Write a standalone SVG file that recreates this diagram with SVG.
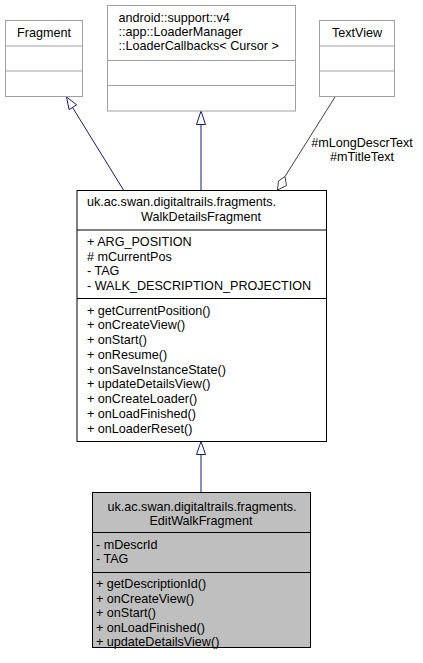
<svg xmlns="http://www.w3.org/2000/svg" width="423" height="663" viewBox="0 0 423 663">
<style>
text{font-family:"Liberation Sans",Arial,Helvetica,sans-serif;font-size:12.6px;fill:#000}
.c{text-anchor:middle}
.ext{fill:#fff;stroke:#a0a0a0;stroke-width:1}
.main{fill:#fff;stroke:#000;stroke-width:1}
.cur{fill:#bfbfbf;stroke:#000;stroke-width:1}
.dl{stroke:#000;stroke-width:1}
.dg{stroke:#a0a0a0;stroke-width:1}
.inh{stroke:#191970;stroke-width:1;fill:none}
.inhh{stroke:#191970;stroke-width:1;fill:#fff}
.agg{stroke:#404040;stroke-width:1;fill:none}
.aggh{stroke:#404040;stroke-width:1;fill:#fff}
</style>
<rect width="423" height="663" fill="#fff"/>
<g id="connectors">
<line class="inh" x1="123.5" y1="190" x2="71" y2="105"/>
<polygon class="inhh" points="66.5,97 76.7,104.8 69.1,109.6"/>
<line class="inh" x1="201" y1="190" x2="201" y2="124.5"/>
<polygon class="inhh" points="201,111 205.5,124.5 196.5,124.5"/>
<line class="agg" x1="335" y1="97" x2="285" y2="176.5"/>
<polygon class="aggh" points="285,176.5 286.5,185.5 277.5,190 278.5,181"/>
<text class="c" x="362" y="146.5">#mLongDescrText</text>
<text class="c" x="362" y="160.5">#mTitleText</text>
<line class="inh" x1="201" y1="492" x2="201" y2="454.5"/>
<polygon class="inhh" points="201,441.5 205.5,454.5 196.5,454.5"/>
</g>
<g id="Fragment">
<rect class="ext" x="5.5" y="20.5" width="77" height="76"/>
<line class="dg" x1="5.5" y1="46" x2="82.5" y2="46"/>
<line class="dg" x1="5.5" y1="71" x2="82.5" y2="71"/>
<text class="c" x="44" y="37">Fragment</text>
</g>
<g id="LoaderCallbacks">
<rect class="ext" x="107.5" y="5.5" width="188" height="105.5"/>
<line class="dg" x1="107.5" y1="60.5" x2="295.5" y2="60.5"/>
<line class="dg" x1="107.5" y1="85.5" x2="295.5" y2="85.5"/>
<text x="118.5" y="22">android::support::v4</text>
<text x="118.5" y="36">::app::LoaderManager</text>
<text x="118.5" y="50">::LoaderCallbacks&lt; Cursor &gt;</text>
</g>
<g id="TextView">
<rect class="ext" x="319.5" y="20.5" width="75" height="76"/>
<line class="dg" x1="319.5" y1="46" x2="394.5" y2="46"/>
<line class="dg" x1="319.5" y1="71" x2="394.5" y2="71"/>
<text class="c" x="357" y="37">TextView</text>
</g>
<g id="WalkDetailsFragment">
<rect class="main" x="77" y="190.5" width="249.5" height="251"/>
<line class="dl" x1="77" y1="230" x2="326.5" y2="230"/>
<line class="dl" x1="77" y1="298.5" x2="326.5" y2="298.5"/>
<text x="87" y="206">uk.ac.swan.digitaltrails.fragments.</text>
<text class="c" x="201" y="220.5">WalkDetailsFragment</text>
<text x="87" y="246">+ ARG_POSITION</text>
<text x="87" y="260.5"># mCurrentPos</text>
<text x="87" y="275">- TAG</text>
<text x="87" y="289.5">- WALK_DESCRIPTION_PROJECTION</text>
<text x="87" y="314.5">+ getCurrentPosition()</text>
<text x="87" y="329.2">+ onCreateView()</text>
<text x="87" y="344">+ onStart()</text>
<text x="87" y="358.7">+ onResume()</text>
<text x="87" y="373.5">+ onSaveInstanceState()</text>
<text x="87" y="388.2">+ updateDetailsView()</text>
<text x="87" y="403">+ onCreateLoader()</text>
<text x="87" y="417.7">+ onLoadFinished()</text>
<text x="87" y="432.5">+ onLoaderReset()</text>
</g>
<g id="EditWalkFragment">
<rect class="cur" x="92.5" y="492.5" width="218" height="155"/>
<line class="dl" x1="92.5" y1="532.5" x2="310.5" y2="532.5"/>
<line class="dl" x1="92.5" y1="572.5" x2="310.5" y2="572.5"/>
<text class="c" x="202" y="511">uk.ac.swan.digitaltrails.fragments.</text>
<text class="c" x="201" y="525">EditWalkFragment</text>
<text x="96" y="549">- mDescrId</text>
<text x="96" y="563">- TAG</text>
<text x="96" y="588">+ getDescriptionId()</text>
<text x="96" y="602.5">+ onCreateView()</text>
<text x="96" y="617">+ onStart()</text>
<text x="96" y="631.5">+ onLoadFinished()</text>
<text x="96" y="645.5">+ updateDetailsView()</text>
</g>
</svg>
